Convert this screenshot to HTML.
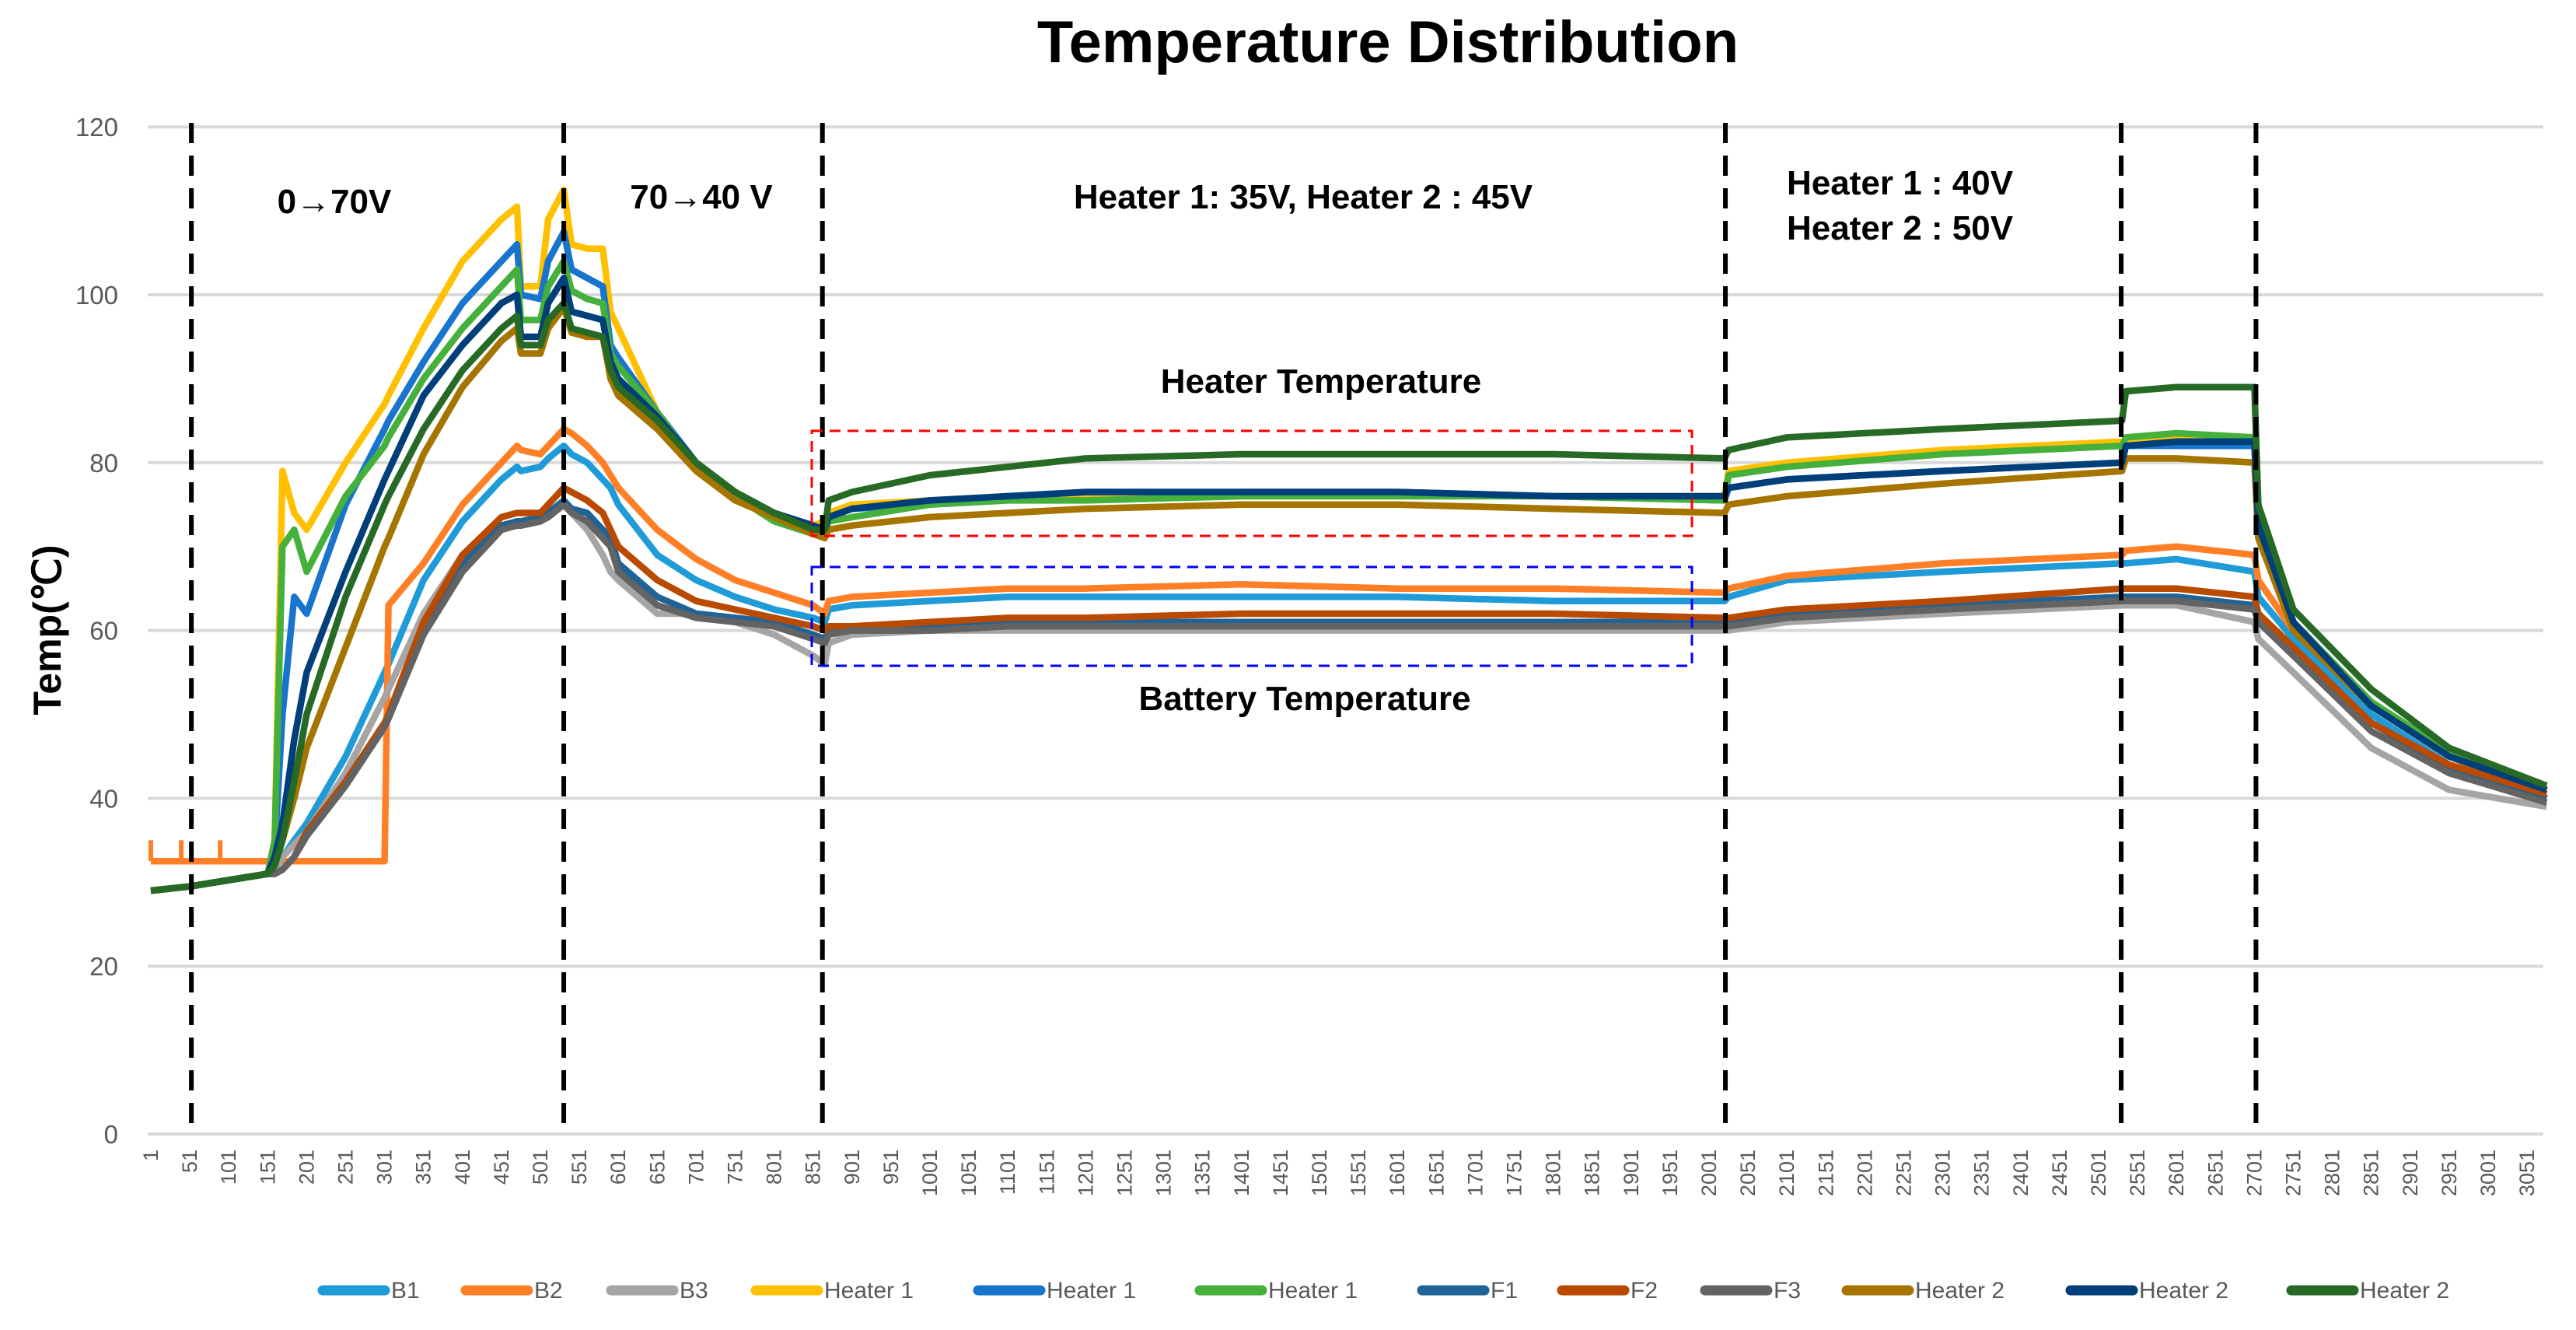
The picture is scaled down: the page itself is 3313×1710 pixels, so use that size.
<!DOCTYPE html>
<html><head><meta charset="utf-8">
<style>
html,body{margin:0;padding:0;background:#fff;}
svg{display:block;font-family:"Liberation Sans",Arial,sans-serif;}
</style></head>
<body>
<svg id="chart" width="3313" height="1710" viewBox="0 0 3313 1710" xmlns="http://www.w3.org/2000/svg">
<rect width="3313" height="1710" fill="#fff"/>
<text x="1785" y="80" text-anchor="middle" font-size="76" font-weight="bold" fill="#000">Temperature Distribution</text>
<text transform="translate(78,810) rotate(-90)" text-anchor="middle" font-size="50" font-weight="bold" fill="#000">Temp(℃)</text>
<g id="grid"></g>
<g id="xticks"></g>
<g id="series"></g>
<g id="annot"></g>
<g id="legend"></g>
</svg>
<script>
const samples=[1,51,151,160,170,185,201,251,301,306,351,401,451,471,476,501,511,531,541,561,581,591,601,651,701,751,801,851,866,871,901,1001,1101,1201,1401,1601,1801,2021,2026,2101,2301,2531,2536,2601,2701,2706,2751,2851,2951,3076];
const b1=[29,29.5,31,31.5,33,35,37,45,55,56,66,73,78,79.5,79,79.5,80.5,82,81,80,78,77,75,69,66,64,62.5,61.5,61,62.5,63,63.5,64,64,64,64,63.5,63.5,64,66,67,68,68,68.5,67,64,59,50,44,40];
const b2=[32.5,32.5,32.5,32.5,32.5,32.5,32.5,32.5,32.5,63,68,75,80,82,81.5,81,82,84,83.5,82,80,78.5,77,72,68.5,66,64.5,63,62,63.5,64,64.5,65,65,65.5,65,65,64.5,65,66.5,68,69,69.5,70,69,66,60,51,45,40];
const b3=[29,29.5,31,31.5,33,34.5,36,43,52,53,62,69,72.5,73,72.5,73,73.5,75,74,72,69,67,66,62,62,61,59.5,57,56,58.5,59.5,60,60,60,60,60,60,60,60,61,62,63,63,63,61,59,55,46,41,39];
const h1a=[29,29.5,31,35,79,74,72,80,87,88,96,104,109,110.5,101,101,109,112.5,106,105.5,105.5,98,96,86,80,76.5,74,72.5,73,74,75,75.5,76,76,76.5,76.5,76,76,79,80,81.5,82.5,82.5,83,83,74,61,51,45,41];
const h1b=[29,29.5,31,34,50,64,62,75,84,85,92,99,104,106,100,99.5,104,107.5,103,102,101,94,92.5,86,80,76,74,72.5,72,73.5,74.5,75,76,76.5,76.5,76.5,76,75.5,77,78,79,80,82,82,82,73,60.5,51,45,41];
const h1c=[29,29.5,31,35,70,72,67,76,82,83,90,96,101,103,97,97,101,104,100.5,99.5,99,93,91.5,86,79.5,76,73,71.5,71.5,73,73.5,75,75.5,75.5,76,76,76,75.5,78.5,79.5,81,82,83,83.5,83,73.5,61,51.5,45.5,41];
const f1=[29,29.5,31,31,31.5,33,36,42,49,50,60,68,72.5,73,73,73.5,74,75.5,74.5,74,72,71,68,64,62,61.5,61,59.5,59,60,60,60.5,61,61,61,61,61,61,61,62,63,64,64,64,63,62,58,49,43.5,40];
const f2=[29,29.5,31,31,31.5,33,36,42,49,50,61,69,73.5,74,74,74,75,77,76.5,75.5,74,72,70,66,63.5,62.5,61.5,60.5,60,60.5,60.5,61,61.5,61.5,62,62,62,61.5,61.5,62.5,63.5,65,65,65,64,62,58,49,44,40.5];
const f3=[29,29.5,31,31,31.5,33,35.5,41.5,48.5,49.5,59.5,67,72,72.5,72.5,73,73.5,75,74,73,71,70,67,63,61.5,61,60.5,59,58.5,59.5,60,60,60.5,60.5,60.5,60.5,60.5,60.5,60.5,61.5,62.5,63.5,63.5,63.5,62.5,61,57,48,43,39.5];
const h2a=[29,29.5,31,32,35,40,46,58,70,71,81,89,94.5,96,93,93,96,98.5,95.5,95,95,90,88,84,79,75.5,73.5,71.5,71,72,72.5,73.5,74,74.5,75,75,74.5,74,75,76,77.5,79,80.5,80.5,80,71,60,51,45,41];
const h2b=[29,29.5,31,33,37,47,55,67,78,79,88,94,99,100,95,95,99,102,98,97.5,97,92,90,85.5,80,76.5,74,72.5,72,73.5,74.5,75.5,76,76.5,76.5,76.5,76,76,77,78,79,80,82,82.5,82.5,72.5,61,51,45,41];
const h2c=[29,29.5,31,32,35,42,50,64,75,76,84,91,96,97.5,94,94,97,99,96,95.5,95,91,89,85,80,76.5,74,72,72,75.5,76.5,78.5,79.5,80.5,81,81,81,80.5,81.5,83,84,85,88.5,89,89,75,62.5,53,46,41.5];
const b2SpikeIdx=[1,40,90];
const b2SpikeVal=[35,35,35];
const seriesNames=["B1","B2","B3","Heater 1","Heater 1","Heater 1","F1","F2","F3","Heater 2","Heater 2","Heater 2"];
const seriesValues=[b1,b2,b3,h1a,h1b,h1c,f1,f2,f3,h2a,h2b,h2c];
const seriesColors=["#1f9bd7","#ff7f27","#a5a5a5","#ffc000","#1874cd","#45b03c","#1f6397","#b94a00","#636363","#a67500","#003f7a","#276a25"];
const yTicks=[0,20,40,60,80,100,120];
const phaseLines=[53,531,863,2022,2530,2703];

const NS="http://www.w3.org/2000/svg";
function X(i){return 194+(i-1)*1.002;}
function Y(v){return 1458-v*10.79;}
function mk(tag,attrs,parent){const e=document.createElementNS(NS,tag);for(const k in attrs)e.setAttribute(k,attrs[k]);parent.appendChild(e);return e;}
const grid=document.getElementById('grid');
yTicks.forEach(t=>{
  const l=mk('line',{x1:190,x2:3271,y1:Y(t),y2:Y(t),stroke:'#d9d9d9','stroke-width':4},grid);
  
  
  const tx=mk('text',{x:152,y:Y(t)+12,'text-anchor':'end','font-size':33,fill:'#595959'},grid);
  tx.textContent=t;
  
  
});
const xt=document.getElementById('xticks');
for(let i=1;i<=3051;i+=50){
  const tx=mk('text',{transform:`translate(${X(i)+9},1478) rotate(-90)`,'text-anchor':'end','font-size':27,fill:'#595959'},xt);
  tx.textContent=i;
  
  
}
const sg=document.getElementById('series');
seriesValues.forEach((vals,k)=>{
  const d=vals.map((v,j)=>(j?'L':'M')+X(samples[j]).toFixed(1)+','+Y(v).toFixed(1)).join(' ');
  const p=mk('path',{d:d,fill:'none',stroke:seriesColors[k],'stroke-width':8.5,'stroke-linejoin':'round'},sg);
  
  
  if(k===1){
    b2SpikeIdx.forEach((si,m)=>{
      const s=mk('line',{x1:X(si),x2:X(si),y1:Y(32.5),y2:Y(b2SpikeVal[m]),stroke:seriesColors[1],'stroke-width':6},sg);
      
      
    });
  }
});
const an=document.getElementById('annot');
phaseLines.forEach(i=>{
  const l=mk('line',{x1:X(i),x2:X(i),y1:158,y2:1460,stroke:'#000','stroke-width':6,'stroke-dasharray':'26,16'},an);
  
  
});
const r1=mk('rect',{x:1044,y:554,width:1132,height:135,fill:'none',stroke:'#ff0000','stroke-width':3,'stroke-dasharray':'14,9'},an);


const r2=mk('rect',{x:1044,y:729,width:1132,height:127,fill:'none',stroke:'#0000ff','stroke-width':3,'stroke-dasharray':'14,9'},an);


const labels=[["0→70V",430,274,"middle","phase-label-1"],["70→40 V",902,268,"middle","phase-label-2"],["Heater 1: 35V, Heater 2 : 45V",1676,268,"middle","phase-label-3"],["Heater 1 : 40V",2298,250,"start","phase-label-4a"],["Heater 2 : 50V",2298,308,"start","phase-label-4b"],["Heater Temperature",1699,505,"middle","heater-temp-label"],["Battery Temperature",1678,913,"middle","battery-temp-label"]];
labels.forEach(a=>{
  const t=mk('text',{x:a[1],y:a[2],'text-anchor':a[3],'font-size':44,'font-weight':'bold',fill:'#000'},an);
  t.textContent=a[0];
  
  
});
const lg=document.getElementById('legend');
const legX=[410,594,781,967,1253,1538,1824,2004,2188,2370,2658,2942];
seriesNames.forEach((n,k)=>{
  const g=mk('g',{},lg);
  
  
  mk('line',{x1:legX[k]+5,x2:legX[k]+85,y1:1659,y2:1659,stroke:seriesColors[k],'stroke-width':13,'stroke-linecap':'round'},g);
  const t=mk('text',{x:legX[k]+93,y:1669,'font-size':30,fill:'#595959'},g);
  t.textContent=n;
});
</script>
</body></html>
